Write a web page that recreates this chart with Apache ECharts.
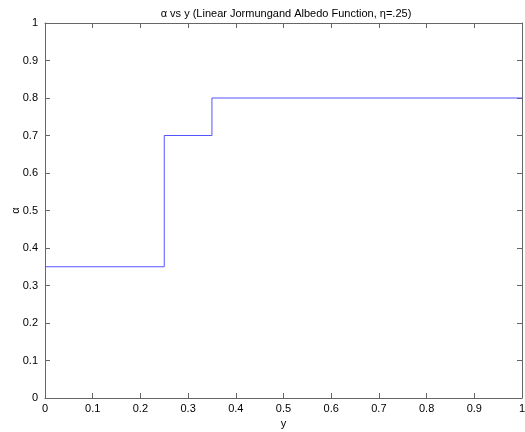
<!DOCTYPE html>
<html>
<head>
<meta charset="utf-8">
<script src="https://cdn.jsdelivr.net/npm/echarts@6/dist/echarts.min.js"></script>
<style>
  html, body { margin: 0; padding: 0; background: #fff; }
  #chart { width: 525px; height: 432px; }
</style>
</head>
<body>
<div id="chart"></div>
<script>
// step function corners
var yVals = [0, 0.25, 0.25, 0.35, 0.35, 1];
var alphaVals = [0.35, 0.35, 0.7, 0.7, 0.8, 0.8];
var titleText = "\u03b1 vs y (Linear Jormungand Albedo Function, \u03b7=.25)";

var chart = echarts.init(document.getElementById("chart"));
var font = "Liberation Sans, Arial, sans-serif";
var axisCol = "#666";

var pts = yVals.map(function (v, i) { return [v, alphaVals[i]]; });

function fmt(v) { return String(+v.toFixed(1)); }

function baseAxis(extra) {
  var a = {
    type: "value",
    min: 0,
    max: 1,
    interval: 0.1,
    axisLine: { show: true, onZero: false, lineStyle: { color: axisCol, width: 1 } },
    axisTick: { show: true, inside: true, length: 5, lineStyle: { color: axisCol } },
    splitLine: { show: false },
    axisLabel: { color: "#000", fontFamily: font, fontSize: 11, formatter: fmt }
  };
  for (var k in extra) a[k] = extra[k];
  return a;
}

var option = {
  animation: false,
  backgroundColor: "#fff",
  title: {
    text: titleText,
    left: 281,
    textAlign: "center",
    top: 3,
    textStyle: { fontFamily: font, fontSize: 11, fontWeight: "normal", color: "#000" }
  },
  grid: { left: 45, right: 3, top: 23, bottom: 34, containLabel: false, outerBoundsMode: "none" },
  xAxis: [
    baseAxis({
      position: "bottom",
      name: "y",
      nameLocation: "middle",
      nameGap: 17,
      nameTextStyle: { fontFamily: font, fontSize: 11, color: "#000" },
      axisLabel: { color: "#000", fontFamily: font, fontSize: 11, margin: 5, formatter: fmt }
    }),
    baseAxis({ position: "top", axisLabel: { show: false } })
  ],
  yAxis: [
    baseAxis({
      position: "left",
      name: "\u03b1",
      nameLocation: "middle",
      nameGap: 24,
      nameMoveOverlap: false,
      nameTextStyle: { fontFamily: font, fontSize: 11, color: "#000" },
      axisLabel: { color: "#000", fontFamily: font, fontSize: 11, margin: 7, formatter: fmt }
    }),
    baseAxis({ position: "right", axisLabel: { show: false } })
  ],
  series: [
    {
      type: "line",
      data: pts,
      showSymbol: false,
      lineStyle: { color: "#5555ff", width: 1 }
    }
  ]
};

chart.setOption(option);
</script>
</body>
</html>
